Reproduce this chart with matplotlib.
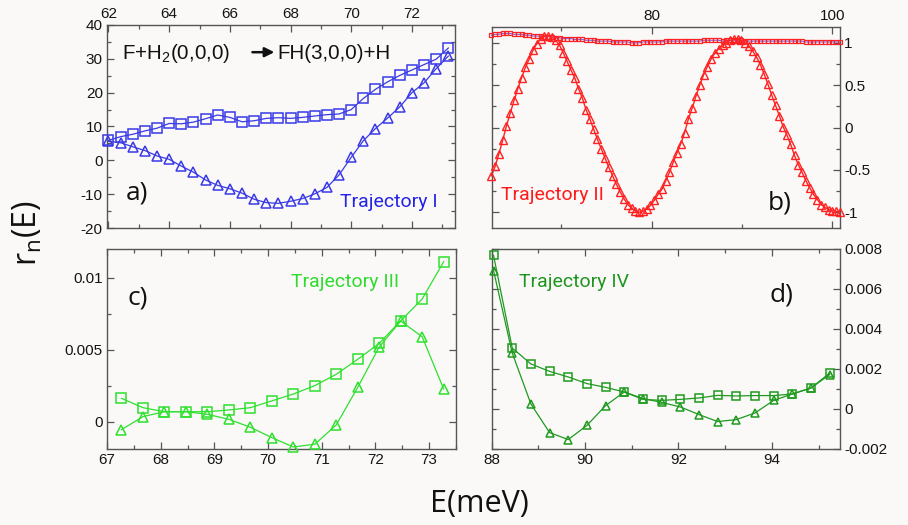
import numpy as np
import matplotlib.pyplot as plt
from matplotlib.ticker import MultipleLocator, FuncFormatter

# ---- data: r_n(E) for the four trajectories (squares / triangles) ----
# a) Trajectory I
E_a = [62.0, 62.4, 62.8, 63.2, 63.6, 64.0, 64.4, 64.8, 65.2, 65.6,
       66.0, 66.4, 66.8, 67.2, 67.6, 68.0, 68.4, 68.8, 69.2, 69.6,
       70.0, 70.4, 70.8, 71.2, 71.6, 72.0, 72.4, 72.8, 73.2]
sq_a = [5.9, 7.0, 7.7, 8.7, 9.5, 10.9, 10.8, 11.3, 12.3, 13.4,
        12.7, 11.4, 11.7, 12.4, 12.6, 12.4, 12.7, 13.1, 13.5, 13.7,
        15.0, 18.3, 21.0, 23.2, 25.1, 26.7, 28.3, 29.9, 33.2]
tr_a = [5.6, 5.2, 4.0, 2.9, 1.3, 0.3, -1.7, -3.5, -5.8, -7.4,
        -8.4, -9.7, -11.5, -12.5, -12.7, -12.1, -11.3, -9.9, -8.0, -4.3,
        0.9, 5.8, 9.4, 12.5, 15.8, 20.0, 22.9, 27.1, 30.8]

# b) Trajectory II
E_b = np.linspace(62.24, 100.85, 93)
tr_b = [-0.57, -0.46, -0.31, -0.15, 0.02, 0.17, 0.32, 0.46, 0.59, 0.71,
        0.81, 0.91, 0.99, 1.05, 1.08, 1.08, 1.07, 1.03, 0.97, 0.88,
        0.78, 0.68, 0.59, 0.46, 0.35, 0.21, 0.10, -0.02, -0.14, -0.25,
        -0.36, -0.47, -0.57, -0.67, -0.76, -0.84, -0.91, -0.95, -0.985, -1.0,
        -0.99, -0.96, -0.92, -0.86, -0.79, -0.73, -0.63, -0.53, -0.41, -0.30,
        -0.19, -0.06, 0.10, 0.23, 0.37, 0.50, 0.62, 0.72, 0.81, 0.88,
        0.93, 0.97, 1.00, 1.03, 1.04, 1.04, 1.03, 1.00, 0.96, 0.90,
        0.83, 0.74, 0.63, 0.51, 0.38, 0.26, 0.14, 0.01, -0.09, -0.20,
        -0.33, -0.44, -0.53, -0.63, -0.71, -0.79, -0.85, -0.91, -0.94, -0.97,
        -0.98, -0.99, -1.00]
sq_b = [1.09, 1.10, 1.10, 1.11,
        1.11, 1.11, 1.10, 1.10, 1.10, 1.09,
        1.09, 1.08, 1.08, 1.08, 1.07,
        1.07, 1.07, 1.06, 1.06, 1.05,
        1.05, 1.05, 1.04, 1.04, 1.04, 1.03, 1.03,
        1.03, 1.02, 1.02, 1.02, 1.02, 1.01, 1.01,
        1.01, 1.01, 1.01, 1.00, 1.00, 1.00, 1.01, 1.01, 1.01,
        1.01, 1.01, 1.01, 1.02, 1.02, 1.02, 1.02, 1.02, 1.02, 1.02,
        1.02, 1.02, 1.02, 1.03, 1.03, 1.03, 1.03, 1.03, 1.02, 1.03,
        1.03, 1.03, 1.03, 1.03, 1.02, 1.02, 1.02, 1.02, 1.02, 1.02,
        1.02, 1.02, 1.02, 1.02, 1.02, 1.02, 1.02, 1.02, 1.02, 1.02,
        1.01, 1.01, 1.01, 1.01, 1.01, 1.01, 1.01, 1.01, 1.01, 1.01]

# c) Trajectory III
E_c = [67.27, 67.67, 68.07, 68.47, 68.87, 69.27, 69.67, 70.07,
       70.47, 70.87, 71.27, 71.67, 72.07, 72.47, 72.87, 73.27]
sq_c = [0.00162, 0.00097, 0.00069, 0.00069, 0.00069, 0.00081, 0.00097, 0.00144,
        0.00192, 0.0025, 0.00329, 0.00433, 0.00544, 0.00701, 0.00852, 0.01111]
tr_c = [-0.00056, 0.00035, 0.00069, 0.00069, 0.00051, 0.00016, -0.00039, -0.00111,
        -0.00176, -0.00157, -0.00023, 0.00238, 0.00519, 0.00699, 0.0059, 0.00227]

# d) Trajectory IV
E_d = [88.04, 88.44, 88.84, 89.24, 89.64, 90.04, 90.44, 90.84, 91.24, 91.64,
       92.04, 92.44, 92.84, 93.24, 93.64, 94.04, 94.44, 94.84, 95.24]
sq_d = [0.00768, 0.00305, 0.00225, 0.00188, 0.0016, 0.00127, 0.00108, 0.00085,
        0.00048, 0.00043, 0.00048, 0.00055, 0.00068, 0.00065, 0.00067, 0.00067,
        0.00075, 0.00105, 0.0018]
tr_d = [0.00692, 0.0028, 0.00025, -0.00118, -0.00153, -0.00082, 0.00017, 0.00085,
        0.00052, 0.00033, 0.0001, -0.00028, -0.00063, -0.00053, -0.0002, 0.00043,
        0.00075, 0.00105, 0.00172]

bg = '#faf9f8'
frame = '#555555'
plt.rcParams['font.family'] = ['Liberation Sans', 'DejaVu Sans']
plt.rcParams['font.size'] = 11

fig = plt.figure(figsize=(9.08, 5.25), dpi=100, facecolor=bg)

def setup(ax, xl, yl, xmaj, xmin, ymaj, ymin, xtop, yright):
    ax.set_facecolor(bg)
    ax.set_xlim(*xl)
    ax.set_ylim(*yl)
    ax.xaxis.set_major_locator(MultipleLocator(xmaj))
    ax.xaxis.set_minor_locator(MultipleLocator(xmin))
    ax.yaxis.set_major_locator(MultipleLocator(ymaj))
    ax.yaxis.set_minor_locator(MultipleLocator(ymin))
    fmt = FuncFormatter(lambda v, p: '%g' % round(v, 6))
    ax.xaxis.set_major_formatter(fmt)
    ax.yaxis.set_major_formatter(fmt)
    for s in ax.spines.values():
        s.set_color(frame)
        s.set_linewidth(1.0)
    ax.tick_params(which='both', direction='in', top=True, bottom=True,
                   left=True, right=True, color=frame, labelcolor='#151515',
                   labelsize=11, pad=3)
    ax.tick_params(which='major', length=5, width=0.9)
    ax.tick_params(which='minor', length=3, width=0.9)
    ax.tick_params(axis='x', labeltop=xtop, labelbottom=not xtop)
    ax.tick_params(axis='y', labelright=yright, labelleft=not yright)

def series(ax, x, y, marker, col, ms, lcol=None, lw=0.9, mew=1.1):
    ax.plot(x, y, '-', color=lcol or col, lw=lw, clip_on=False, zorder=2)
    ax.plot(x, y, marker, ls='none', ms=ms, mfc='none', mec=col, mew=mew,
            clip_on=False, zorder=3)

lab = dict(family=['Open Sans', 'DejaVu Sans'], fontsize=19, color='#111111',
           ha='center', va='center')
traj = dict(family=['Roboto', 'DejaVu Sans'], fontsize=14, fontweight='normal',
            ha='center', va='center')

# a)
ax_a = fig.add_axes([0.1178, 0.5657, 0.3833, 0.3867])
setup(ax_a, (61.95, 73.42), (-20, 40), 2, 1, 10, 5, True, False)
blue = '#3a3ae6'
series(ax_a, E_a, sq_a, 's', blue, 7.0)
series(ax_a, E_a, tr_a, '^', blue, 7.2)
ax_a.text(0.042, 0.862, 'F+H$_\\mathregular{2}$(0,0,0)', transform=ax_a.transAxes,
          fontsize=14.8, ha='left', va='center', color='#111111')
ax_a.text(0.489, 0.862, 'FH(3,0,0)+H', transform=ax_a.transAxes,
          fontsize=14.8, ha='left', va='center', color='#111111')
ax_a.annotate('', xy=(0.489, 0.866), xytext=(0.41, 0.866),
              xycoords='axes fraction',
              arrowprops=dict(arrowstyle='-|>', color='#111111', lw=1.8,
                              mutation_scale=14))
ax_a.text(0.086, 0.172, 'a)', transform=ax_a.transAxes, **lab)
ax_a.text(0.81, 0.128, 'Trajectory I', transform=ax_a.transAxes,
          color='#2323e6', **traj)

# b)
ax_b = fig.add_axes([0.5415, 0.5651, 0.3836, 0.384])
setup(ax_b, (62.28, 100.85), (-1.19, 1.19), 20, 10, 0.5, 0.25, True, True)
red = '#ff2222'
ax_b.plot(E_b, sq_b, '-', color='#6a6aff', lw=0.8, clip_on=False, zorder=2)
ax_b.plot(E_b, sq_b, 's', ls='none', ms=3.4, mfc='none', mec=red, mew=0.9,
          clip_on=False, zorder=3)
series(ax_b, E_b, tr_b, '^', red, 5.2, lw=1.0, mew=1.0)
ax_b.text(0.828, 0.126, 'b)', transform=ax_b.transAxes, **lab)
ax_b.text(0.173, 0.165, 'Trajectory II', transform=ax_b.transAxes,
          color='#ff1a1a', **traj)

# c)
ax_c = fig.add_axes([0.1178, 0.1448, 0.3844, 0.381])
setup(ax_c, (67.0, 73.5), (-0.0019, 0.012), 1, 0.5, 0.005, 0.0025, False, False)
lgreen = '#2fe02f'
series(ax_c, E_c, sq_c, 's', lgreen, 6.5)
series(ax_c, E_c, tr_c, '^', lgreen, 6.5)
ax_c.text(0.089, 0.755, 'c)', transform=ax_c.transAxes, **lab)
ax_c.text(0.682, 0.835, 'Trajectory III', transform=ax_c.transAxes,
          color='#2edb2e', **traj)

# d)
ax_d = fig.add_axes([0.5415, 0.1448, 0.3836, 0.381])
setup(ax_d, (88.0, 95.46), (-0.002, 0.008), 2, 1, 0.002, 0.001, False, True)
dgreen = '#1f9a1f'
series(ax_d, E_d, sq_d, 's', dgreen, 6.2)
series(ax_d, E_d, tr_d, '^', dgreen, 6.2)
ax_d.text(0.831, 0.77, 'd)', transform=ax_d.transAxes, **lab)
ax_d.text(0.236, 0.835, 'Trajectory IV', transform=ax_d.transAxes,
          color='#1e961e', **traj)

fig.text(0.031, 0.555, r'r$_\mathregular{n}$(E)', rotation=90, ha='center',
         va='center', fontsize=23, family=['Open Sans', 'DejaVu Sans'],
         color='#111111')
fig.text(0.5275, 0.04, 'E(meV)', ha='center', va='center', fontsize=22,
         family=['Open Sans', 'DejaVu Sans'], color='#111111')

fig.savefig('out.png', dpi=100, facecolor=bg)
